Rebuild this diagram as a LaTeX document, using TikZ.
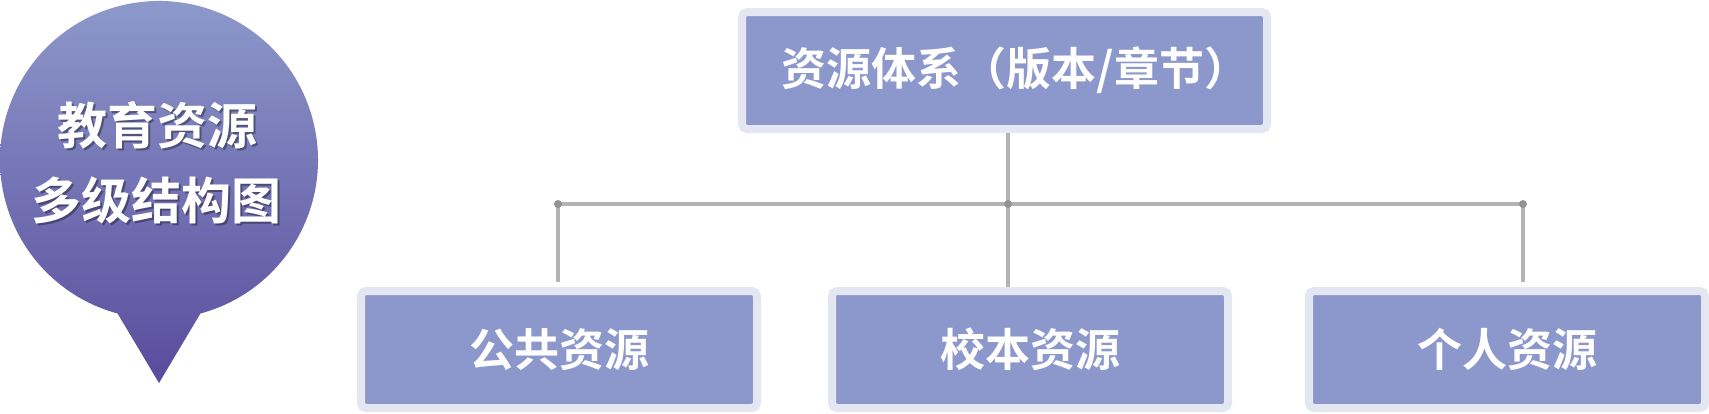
\documentclass[tikz,border=0pt]{standalone}
\usepackage{fontspec}
\newfontfamily\cjk{Noto Sans CJK SC Bold}
\definecolor{boxfill}{HTML}{8C98CB}
\definecolor{boxedge}{HTML}{E4E6F2}
\definecolor{conncol}{HTML}{B3B3B3}
\definecolor{dotcol}{HTML}{939393}
\definecolor{baltop}{HTML}{8F9CCD}
\definecolor{balbot}{HTML}{5A4B9C}
\tikzset{
  lvlbox/.style={draw=boxedge, fill=boxfill, line width=8pt, rounded corners=5pt,
    minimum height=117pt, inner sep=0pt, text=white, font=\cjk\fontsize{45pt}{50pt}\selectfont},
  conn/.style={draw=conncol, line width=4.5pt},
  jdot/.style={fill=dotcol},
  baltext/.style={text=white, font=\cjk\fontsize{50pt}{56pt}\selectfont, inner sep=0pt},
  balshadow/.style={text=black, opacity=0.35, font=\cjk\fontsize{50pt}{56pt}\selectfont, inner sep=0pt}
}
\begin{document}
\begin{tikzpicture}[x=1pt, y=-1pt]
\useasboundingbox (0,0) rectangle (1709,413);
% balloon
\shade[top color=baltop, bottom color=balbot]
  (200.4,313.5) arc[start angle=74.9, end angle=-254.9, radius=159] -- (159,383) -- cycle;
\node[balshadow] (t1s) at (159.5,127.5) {教育资源};
\node[balshadow] (t2s) at (158.5,202.5) {多级结构图};
\node[baltext] (t1) at (157,125) {教育资源};
\node[baltext] (t2) at (156,200) {多级结构图};
% boxes
\node[lvlbox, minimum width=525pt] (top) at (1004.5,70.5) {\hspace*{22pt}资源体系（版本/章节）};
\node[lvlbox, minimum width=396pt] (b1) at (559,349.5) {公共资源};
\node[lvlbox, minimum width=396pt] (b2) at (1030,349.5) {校本资源};
\node[lvlbox, minimum width=396pt] (b3) at (1507,349.5) {个人资源};
% connectors
\coordinate (jl) at (558,204);
\coordinate (jm) at (1008,204);
\coordinate (jr) at (1523,204);
\draw[conn] (jl) -- (jr);
\draw[conn] (jm |- top.south) -- (jm |- b2.north);
\draw[conn, shorten >=5pt] (jl) -- (jl |- b1.north);
\draw[conn, shorten >=5pt] (jr) -- (jr |- b3.north);
\fill[jdot] (jl) circle[radius=4];
\fill[jdot] (jm) circle[radius=4];
\fill[jdot] (jr) circle[radius=4];
\end{tikzpicture}
\end{document}
